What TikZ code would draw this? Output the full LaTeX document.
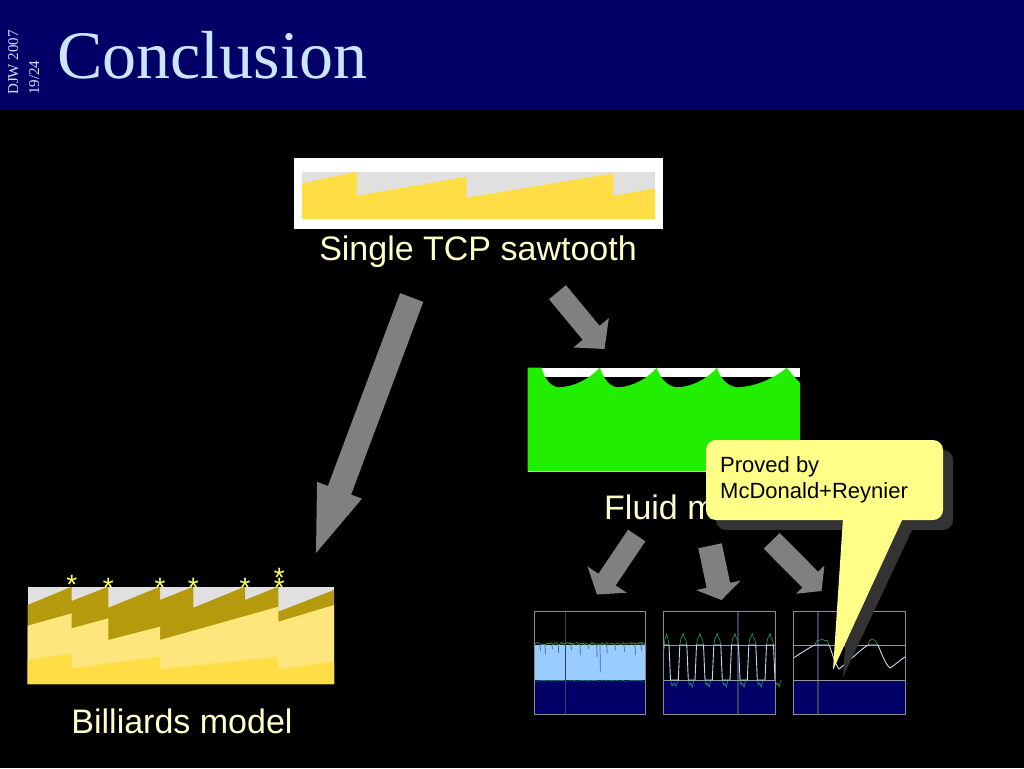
\documentclass[tikz,border=0pt]{standalone}
\usepackage{fontspec}
\setmainfont{Liberation Serif}
\setsansfont{Liberation Sans}
\usetikzlibrary{calc}
\definecolor{navy}{HTML}{000066}
\definecolor{titleblue}{HTML}{CCE5FF}
\definecolor{cream}{HTML}{FFFFCC}
\definecolor{sawyellow}{HTML}{FFDD44}
\definecolor{sawgrey}{HTML}{E0E0E0}
\definecolor{olivey}{HTML}{B49A0C}
\definecolor{lightyel}{HTML}{FFE67C}
\definecolor{fluidgreen}{HTML}{22EE00}
\definecolor{arrowgrey}{HTML}{808080}
\definecolor{callyel}{HTML}{FFFF88}
\definecolor{shadowgrey}{HTML}{333333}
\definecolor{plotblue}{HTML}{99CCFF}
\definecolor{noisegreen}{HTML}{2E9E6A}
\definecolor{framegrey}{HTML}{8C8C8C}
\definecolor{dipblue}{HTML}{3A5FB0}
\definecolor{curveblue}{HTML}{C8DCF0}
\definecolor{vline}{HTML}{33405E}
\definecolor{stary}{HTML}{FFFF66}
\newcommand{\blockarrow}[5]{%
  \coordinate (bh) at ($(#2)!#5!(#1)$);
  \fill[arrowfill] ($(#1)!#3!90:(#2)$) -- ($(bh)!#3!90:(#2)$) -- ($(bh)!#4!90:(#2)$) -- (#2)
    -- ($(bh)!#4!-90:(#2)$) -- ($(bh)!#3!-90:(#2)$) -- ($(#1)!#3!-90:(#2)$) -- cycle;}
\begin{document}
\begin{tikzpicture}[x=1pt,y=-1pt,
  lbltext/.style={font=\sffamily\fontsize{34}{40}\selectfont, text=cream, inner sep=0pt},
  arrowfill/.style={fill=arrowgrey},
  plotframe/.style={draw=framegrey, line width=0.8pt},
  hline/.style={draw=framegrey!90!white, line width=0.7pt},
  noise/.style={draw=noisegreen, line width=0.6pt},
  startext/.style={font=\sffamily\fontsize{28}{28}\selectfont, text=stary, inner sep=0pt, anchor=north},
]
\useasboundingbox (0,0) rectangle (1024,768);
\fill[black] (0,0) rectangle (1024,768);
% title bar
\fill[navy] (0,0) rectangle (1024,110);
\node[anchor=base west, font=\fontsize{68}{68}\selectfont, text=titleblue, inner sep=0pt] (title) at (57,78) {Conclusion};
\node[rotate=90, anchor=north west, align=left, font=\fontsize{15}{21}\selectfont, text=titleblue, inner sep=0pt] (djw) at (8,95) {DJW 2007\\19/24};

% single TCP sawtooth image
\fill[white] (293.5,157.7) rectangle (662.5,229);
\fill[sawgrey] (302,171.7) rectangle (655,219);
\fill[sawyellow] (302,183.3) -- (357,171.7) -- (357,195.7) -- (466.7,176.7) -- (466.7,197.7)
  -- (613.3,173.3) -- (613.3,195.7) -- (655,188.3) -- (655,219) -- (302,219) -- cycle;
\coordinate (sawimg) at (478,193);
\node[lbltext, anchor=base] (single) at (478,260) {Single TCP sawtooth};

% fluid model image
\fill[white] (527.7,367.7) rectangle (800,376.7);
\fill[fluidgreen] (527.7,471) -- (527.7,367.7) -- (541.7,367.7)
 .. controls (544,378) and (550,386) .. (558,387.3)
 .. controls (575,387) and (590,378) .. (600,367.7)
 .. controls (603,378) and (609,386) .. (617,387.3)
 .. controls (633,387) and (648,378) .. (656.7,367.7)
 .. controls (660,378) and (667,386) .. (676,387.3)
 .. controls (693,387) and (708,378) .. (717,367.7)
 .. controls (720,378) and (727,386) .. (736.7,387.3)
 .. controls (755,387) and (775,378) .. (786.7,367.7)
 .. controls (790,372) and (795,378) .. (800,383)
 -- (800,471) -- cycle;
\draw[white!75!gray, line width=0.8pt] (527.7,471.4) -- (800,471.4);
\node[lbltext, anchor=base west] (fluid) at (604,519) {Fluid model};

% billiards image
\fill[sawgrey] (27.7,586.7) rectangle (334,684);
\fill[olivey] (27.7,605) -- (71.7,586.7) -- (71.7,601) -- (108.3,586.7) -- (108.3,607.7) -- (160,586.7)
  -- (160,600) -- (193.3,586.7) -- (193.3,607.7) -- (245,586.7) -- (245,600) -- (278.3,586.7)
  -- (278.3,611.7) -- (334,590) -- (334,684) -- (27.7,684) -- cycle;
\fill[lightyel] (27.7,625.7) -- (71.7,613.3) -- (71.7,628.3) -- (108.3,618.3) -- (108.3,640)
  -- (160,626.7) -- (160,640) -- (278.3,606.7) -- (278.3,621.7) -- (334,605) -- (334,684) -- (27.7,684) -- cycle;
\fill[sawyellow] (27.7,660) -- (71.7,653.3) -- (71.7,668.3) -- (160,656.7) -- (160,669.3)
  -- (278.3,656.7) -- (278.3,669.3) -- (334,661.7) -- (334,684) -- (27.7,684) -- cycle;
\node[startext] (st1) at (71.7,575) {*};
\node[startext] (st2) at (108.3,578) {*};
\node[startext] (st3) at (160,578) {*};
\node[startext] (st4) at (193.3,578) {*};
\node[startext] (st5) at (245,578) {*};
\node[startext] (st6) at (279.3,578) {*};
\node[startext] (st7) at (279.3,568.5) {*};
\node[lbltext, anchor=base] (billiards) at (182,733) {Billiards model};

% plot 1
\fill[navy] (534.3,680) rectangle (645.7,714);
\fill[plotblue] (534.3,645) rectangle (645.7,680);
\foreach \dx/\dl in {540/6,545/9,552/4,558.3/8,571/5,580/10,588/4,596.7/12,600/27,606.7/8,615/5,624/7,635/10,641/6}
  \draw[dipblue, line width=0.7pt] (\dx,645) -- (\dx+0.4,645+\dl);
\draw[vline, line width=1.2pt] (565.7,611) -- (565.7,714);
\pgfmathsetseed{7}
\draw[noise] plot[domain=534.3:645.7, samples=110] (\x,{645-2.6*rnd});
\draw[noise, line width=0.5pt] plot[domain=534.3:645.7, samples=60] (\x,{680+1.2*rnd});
\draw[plotframe] (534.3,611) rectangle (645.7,714);

% plot 2
\fill[navy] (663.3,680) rectangle (775.7,714);
\draw[vline, line width=1.2pt] (738,611) -- (738,714);
\draw[hline] (663.3,645) -- (775.7,645);
\draw[hline] (663.3,680) -- (775.7,680);
\foreach \c in {683.3,700,717.3,735,752.3,770} {
  \draw[noise] (\c-3.5,645) -- (\c-2.5,639) -- (\c-1,636) -- (\c,633.5) -- (\c+1,637.5) -- (\c+2.5,640) -- (\c+3.5,645);
  \draw[noise] (\c+5,680) -- (\c+6,685) -- (\c+7.5,683) -- (\c+9,687) -- (\c+10.5,681) -- (\c+11.5,680);
}
\draw[noise] (664,645) -- (665.5,637) -- (666.7,634) -- (668,639) -- (669,645);
\draw[noise] (670.5,680) -- (672,686) -- (674,683) -- (676,686) -- (678,680);
\draw[plotblue!70!white, line width=0.9pt] (663.3,655) -- (664,645) -- (669,645) -- (670.5,680)
  foreach \c in {683.3,700,717.3,735,752.3,770} { -- (\c-5,680) -- (\c-3.5,645) -- (\c+3.5,645) -- (\c+5,680) }
  -- (775.7,680);
\draw[plotframe] (663.3,611) rectangle (775.7,714);

% plot 3
\fill[navy] (793.3,680) rectangle (905,714);
\draw[vline, line width=1.2pt] (818,611) -- (818,714);
\draw[hline] (793.3,645) -- (905,645);
\draw[hline] (793.3,680) -- (905,680);
\draw[noise] (815,645) -- (816.5,641) -- (819,640.5) -- (822,639) -- (825,641) -- (827,640) -- (829,645);
\draw[noise] (868,645) -- (869.5,641) -- (872,639) -- (875,640.5) -- (878,645);
\draw[curveblue, line width=0.9pt] (793.3,658) .. controls (800,654) and (808,648) .. (815,645) -- (829,645)
  .. controls (832,652) and (835,664) .. (839,669) .. controls (848,662) and (860,650) .. (868,645) -- (878,645)
  .. controls (881,652) and (885,664) .. (890,668) .. controls (895,665) and (900,660) .. (905,657);
\draw[plotframe] (793.3,611) rectangle (905,714);

% arrows
\coordinate (a1s) at (411.7,297.5); \coordinate (a1t) at (316,553);
\coordinate (a2s) at (557.5,292.2); \coordinate (a2t) at (604.5,349);
\coordinate (a3s) at (636.7,535.5); \coordinate (a3t) at (597,594.5);
\coordinate (a4s) at (710,545.8); \coordinate (a4t) at (721.5,600);
\coordinate (a5s) at (771.7,540.8); \coordinate (a5t) at (821.5,591);
\blockarrow{a1s}{a1t}{12.4pt}{24pt}{67pt}
\blockarrow{a2s}{a2t}{11pt}{23pt}{21pt}
\blockarrow{a3s}{a3t}{10.4pt}{23.6pt}{18pt}
\blockarrow{a4s}{a4t}{12pt}{22.9pt}{15pt}
\blockarrow{a5s}{a5t}{11.2pt}{20pt}{16pt}

% callout
\fill[shadowgrey, rounded corners=10pt] (716,450) rectangle (953,530);
\fill[shadowgrey] (853,528) -- (913,528) -- (843,677) -- cycle;
\fill[callyel, rounded corners=10pt] (706,440) rectangle (943,520);
\fill[callyel] (843,518) -- (903,518) -- (833,670) -- cycle;
\node[anchor=north west, align=left, font=\sffamily\fontsize{22}{26}\selectfont, text=black, inner sep=0pt] (proved) at (720,456) {Proved by\\McDonald+Reynier};
\end{tikzpicture}
\end{document}
